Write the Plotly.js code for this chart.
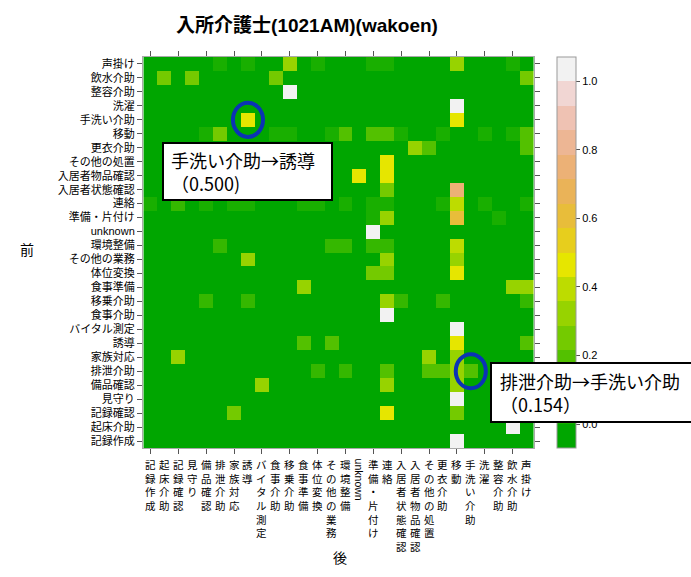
<!DOCTYPE html>
<html>
<head>
<meta charset="utf-8">
<script src="https://cdn.plot.ly/plotly-3.0.1.min.js"></script>
<style>html,body{margin:0;padding:0;background:#fff}</style>
</head>
<body>
<div id="chart" style="width:691px;height:577px"></div>
<script>
// 前 (from) categories, top to bottom
const fromActs = ['声掛け','飲水介助','整容介助','洗濯','手洗い介助','移動','更衣介助','その他の処置','入居者物品確認','入居者状態確認','連絡','準備・片付け','unknown','環境整備','その他の業務','体位変換','食事準備','移乗介助','食事介助','バイタル測定','誘導','家族対応','排泄介助','備品確認','見守り','記録確認','起床介助','記録作成'];
// 後 (to) categories, left to right
const toActs = ['記録作成','起床介助','記録確認','見守り','備品確認','排泄介助','家族対応','誘導','バイタル測定','食事介助','移乗介助','食事準備','体位変換','その他の業務','環境整備','unknown','準備・片付け','連絡','入居者状態確認','入居者物品確認','その他の処置','更衣介助','移動','手洗い介助','洗濯','整容介助','飲水介助','声掛け'];

// non-zero transition probabilities
const transFrom = [
 '声掛け','声掛け','声掛け','声掛け','声掛け','声掛け','声掛け','声掛け',
 '飲水介助','飲水介助','飲水介助','飲水介助',
 '整容介助','洗濯','手洗い介助','手洗い介助',
 '移動','移動','移動','移動','移動','移動','移動','移動','移動','移動','移動','移動','移動',
 '更衣介助','更衣介助','更衣介助',
 'その他の処置','入居者物品確認','入居者物品確認','入居者状態確認','入居者状態確認',
 '連絡','連絡','連絡','連絡','連絡','連絡','連絡','連絡','連絡','連絡','連絡','連絡','連絡','連絡',
 '準備・片付け','準備・片付け','準備・片付け','準備・片付け',
 'unknown',
 '環境整備','環境整備','環境整備','環境整備','環境整備','環境整備',
 'その他の業務','その他の業務','その他の業務',
 '体位変換','体位変換','体位変換',
 '食事準備','食事準備','食事準備',
 '移乗介助','移乗介助','移乗介助','移乗介助','移乗介助','移乗介助',
 '食事介助','バイタル測定',
 '誘導','誘導','誘導','誘導',
 '家族対応','家族対応','家族対応',
 '排泄介助','排泄介助','排泄介助','排泄介助','排泄介助','排泄介助','排泄介助',
 '備品確認','備品確認','備品確認',
 '見守り',
 '記録確認','記録確認','記録確認',
 '起床介助','記録作成'];
const transTo = [
 '排泄介助','誘導','移乗介助','体位変換','準備・片付け','連絡','移動','飲水介助',
 '起床介助','見守り','食事介助','声掛け',
 '移乗介助','移動','誘導','移動',
 '備品確認','排泄介助','食事介助','移乗介助','その他の業務','環境整備','準備・片付け','連絡','入居者状態確認','更衣介助','洗濯','飲水介助','声掛け',
 '入居者物品確認','その他の処置','声掛け',
 '連絡','unknown','連絡','連絡','移動',
 '記録作成','記録確認','備品確認','家族対応','誘導','食事準備','体位変換','環境整備','準備・片付け','連絡','更衣介助','移動','洗濯','声掛け',
 '準備・片付け','連絡','移動','整容介助',
 '準備・片付け',
 '排泄介助','その他の業務','環境整備','準備・片付け','連絡','移動',
 '誘導','連絡','移動',
 '準備・片付け','連絡','移動',
 '食事準備','飲水介助','声掛け',
 '備品確認','誘導','連絡','入居者状態確認','更衣介助','声掛け',
 '連絡','移動',
 '食事準備','その他の業務','移動','声掛け',
 '記録確認','その他の処置','移動',
 '体位変換','環境整備','連絡','その他の処置','更衣介助','移動','手洗い介助',
 'バイタル測定','連絡','移動',
 '移動',
 '家族対応','連絡','移動',
 '飲水介助','移動'];
const transProb = [
 0.056,0.056,0.333,0.056,0.056,0.056,0.333,0.056,
 0.25,0.25,0.25,0.25,
 1.0,1.0,0.5,0.5,
 0.04,0.24,0.04,0.04,0.06,0.16,0.16,0.16,0.04,0.04,0.04,0.04,0.16,
 0.333,0.167,0.167,
 0.5,0.5,0.5,0.273,0.727,
 0.04,0.1,0.04,0.04,0.04,0.04,0.04,0.04,0.04,0.04,0.04,0.4,0.04,0.04,
 0.05,0.3,0.6,0.05,
 1.0,
 0.1,0.1,0.1,0.1,0.1,0.4,
 0.333,0.333,0.333,
 0.25,0.25,0.5,
 0.333,0.333,0.333,
 0.1,0.1,0.3,0.1,0.1,0.1,
 1.0,1.0,
 0.167,0.167,0.5,0.167,
 0.333,0.333,0.333,
 0.077,0.077,0.154,0.154,0.154,0.308,0.154,
 0.333,0.333,0.333,
 1.0,
 0.25,0.5,0.25,
 1.0,1.0];

const colorbarTicks = [0.0,0.2,0.4,0.6,0.8,1.0];
const levelColors = ['#00A600','#19AF00','#35B800','#53C100','#74CA00','#97D300','#BDDC00','#E6E600',
                     '#E7CE1D','#E8BD3A','#EAB358','#ECB176','#EDB694','#EFC2B3','#F1D6D3','#F2F2F2'];

const titleText = '入所介護士(1021AM)(wakoen)';
const callout1 = ['手洗い介助→誘導', '（0.500)'];
const callout2 = ['排泄介助→手洗い介助', '（0.154）'];
const xTitle = '後', yTitle = '前';

// build matrix
const z = fromActs.map(() => toActs.map(() => 0));
transFrom.forEach((f, k) => {
  z[fromActs.indexOf(f)][toActs.indexOf(transTo[k])] = transProb[k];
});

// stepped colour scale (16 levels)
const n = levelColors.length;
const colorscale = [];
levelColors.forEach((c, k) => { colorscale.push([k / n, c]); colorscale.push([(k + 1) / n, c]); });

const W = 691, H = 577, L = 143, R = 534, T = 57, B = 448;
const px = x => (x - L) / (R - L);
const py = y => 1 - (y - T) / (B - T);

const jp = 'Liberation Sans, Noto Sans CJK JP, sans-serif';

const annotations = toActs.map(name => {
  const ascii = /^[\x00-\x7f]+$/.test(name);
  return {
    x: name, xref: 'x', y: 0, yref: 'paper', yanchor: 'top', xanchor: 'center', yshift: -9,
    showarrow: false, textangle: ascii ? 90 : 0,
    text: ascii ? name : name.split('').join('<br>'),
    font: {family: jp, size: 10.5, color: '#000'}
  };
});
annotations.push({x: px(340), y: py(568), xref: 'paper', yref: 'paper', showarrow: false,
  text: xTitle, font: {family: jp, size: 14, color: '#000'}});
annotations.push({x: px(18), y: py(250), xref: 'paper', yref: 'paper', showarrow: false,
  text: yTitle, font: {family: jp, size: 14, color: '#000'}});
annotations.push({x: px(162), y: py(142), xref: 'paper', yref: 'paper', xanchor: 'left', yanchor: 'top',
  showarrow: false, align: 'left', width: 161, bgcolor: '#fff', bordercolor: '#000', borderwidth: 2, borderpad: 3,
  text: callout1.map(s => '\u00a0' + s).join('<br>'),
  font: {family: 'Noto Sans CJK JP, sans-serif', size: 18, color: '#000'}});
annotations.push({x: px(490), y: py(362), xref: 'paper', yref: 'paper', xanchor: 'left', yanchor: 'top',
  showarrow: false, align: 'left', width: 205, bgcolor: '#fff', bordercolor: '#000', borderwidth: 2, borderpad: 4,
  text: callout2.map(s => '\u00a0' + s).join('<br>'),
  font: {family: 'Noto Sans CJK JP, sans-serif', size: 18, color: '#000'}});

const circ = (f, t) => {
  const cx = toActs.indexOf(t), cy = fromActs.indexOf(f);
  return {type: 'circle', xref: 'x', yref: 'y', layer: 'above',
    x0: cx - 1.08, x1: cx + 1.08, y0: cy - 1.22, y1: cy + 1.22,
    line: {color: '#0b33b5', width: 4}, fillcolor: 'rgba(0,0,0,0)'};
};

const trace = {
  type: 'heatmap', x: toActs, y: fromActs, z: z,
  zmin: -0.07, zmax: 1.0705, colorscale: colorscale, hoverinfo: 'skip', xgap: 0, ygap: 0,
  colorbar: {
    x: px(557), xanchor: 'left', xpad: 0, ypad: 0, y: 0.5, yanchor: 'middle',
    thickness: 19, thicknessmode: 'pixels', len: B - T, lenmode: 'pixels',
    outlinewidth: 1, outlinecolor: '#999', borderwidth: 0,
    tickvals: colorbarTicks, ticktext: colorbarTicks.map(v => v.toFixed(1)),
    ticks: 'outside', ticklen: 4, tickcolor: '#555',
    tickfont: {family: jp, size: 11, color: '#000'}
  }
};

const layout = {
  width: W, height: H, autosize: false,
  margin: {l: L, r: W - R, t: T, b: H - B, pad: 0},
  paper_bgcolor: '#fff', plot_bgcolor: '#fff',
  title: {text: titleText, x: 307 / W, xref: 'container', xanchor: 'center', y: 1 - 25 / H, yanchor: 'middle',
    font: {family: jp, size: 19, weight: 'bold', color: '#000'}},
  xaxis: {type: 'category', categoryorder: 'array', categoryarray: toActs, showticklabels: false,
    ticks: 'outside', ticklen: 5, tickcolor: '#555', showline: true, linecolor: '#aaa', mirror: 'ticks',
    showgrid: false, zeroline: false, fixedrange: true},
  yaxis: {type: 'category', categoryorder: 'array', categoryarray: fromActs, autorange: 'reversed',
    ticks: 'outside', ticklen: 5, tickcolor: '#555', showline: true, linecolor: '#aaa', mirror: 'ticks',
    showgrid: false, zeroline: false, fixedrange: true,
    tickfont: {family: jp, size: 11, color: '#000'}},
  annotations: annotations,
  shapes: [circ('手洗い介助', '誘導'), circ('排泄介助', '手洗い介助')],
  showlegend: false
};

Plotly.newPlot('chart', [trace], layout, {staticPlot: true, displayModeBar: false});
</script>
</body>
</html>
